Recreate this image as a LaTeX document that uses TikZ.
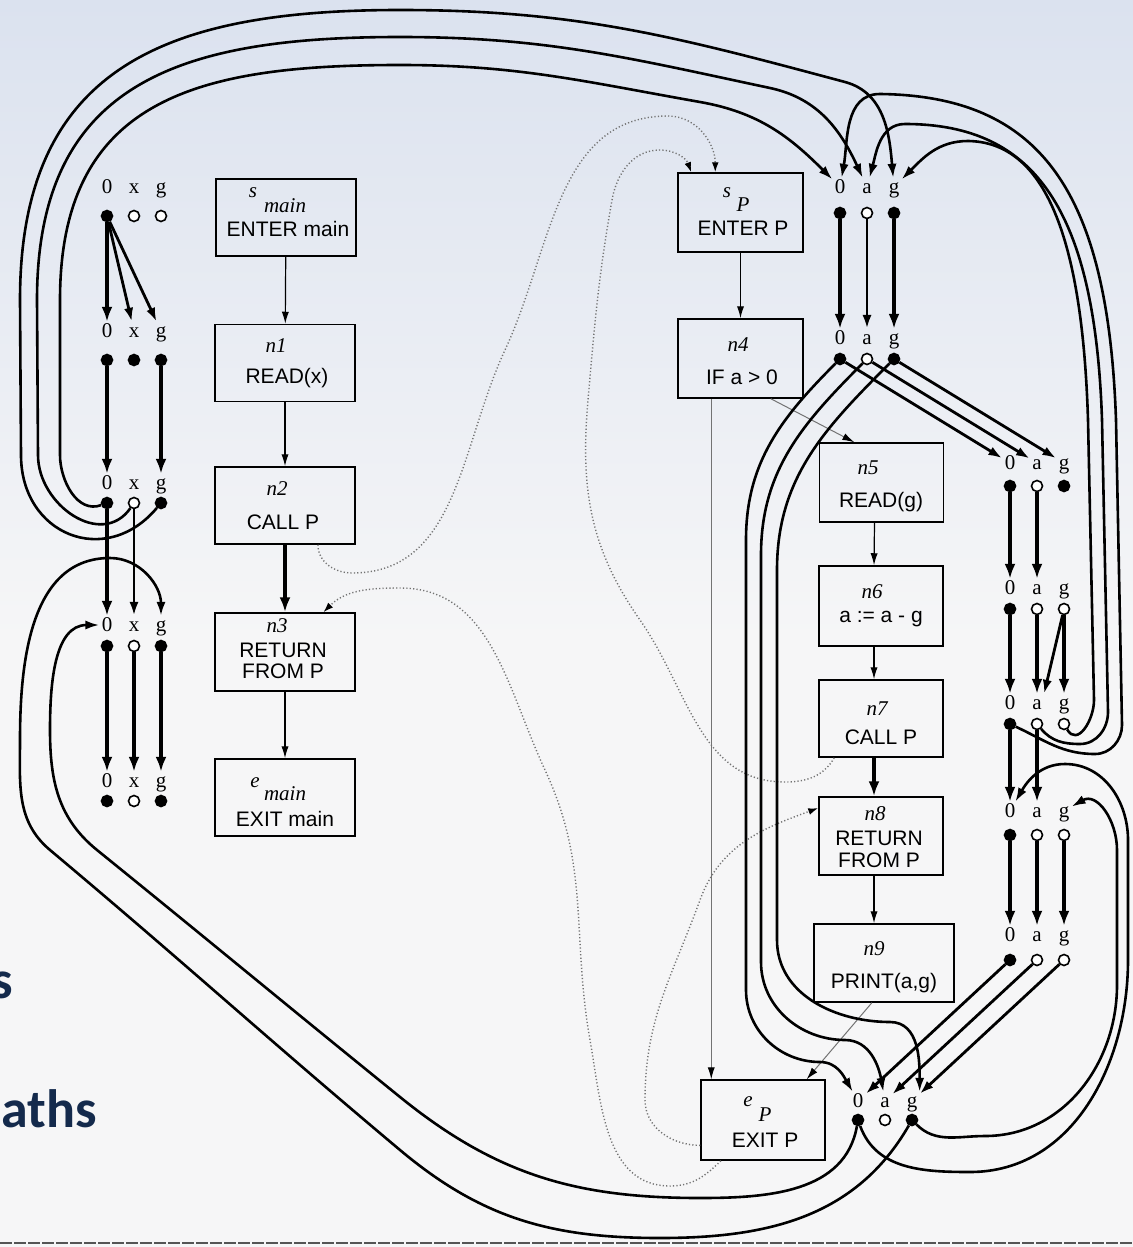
\documentclass[tikz,border=0pt]{standalone}
\usepackage{fontspec}
\setmainfont{Liberation Serif}
\setsansfont{Liberation Sans}
\newfontfamily\slidefont{Carlito}
\usetikzlibrary{arrows.meta,calc}

\definecolor{slideblue}{RGB}{20,42,76}
\definecolor{bgtop}{RGB}{219,226,239}
\definecolor{bglow}{RGB}{246,246,247}
\definecolor{rulegray}{RGB}{85,85,85}
\definecolor{linkgray}{RGB}{115,115,115}

\tikzstyle{stmt} = [draw, line width=0.75pt, inner sep=0pt]
\tikzstyle{stmtxt} = [inner sep=0pt, anchor=base, font=\sffamily\fontsize{10.5}{12}\selectfont]
\tikzstyle{tag} = [inner sep=0pt, anchor=base, font=\itshape\fontsize{10.5}{12}\selectfont]
\tikzstyle{flab} = [inner sep=1pt, font=\fontsize{10.5}{12}\selectfont, text height=6.8pt, text depth=0pt]
\tikzstyle{fact} = [circle, draw, line width=0.8pt, inner sep=0pt, minimum size=5.5pt]
\tikzstyle{cfe} = [line width=0.6pt, -{Latex[length=6pt,width=3.6pt]}]
\tikzstyle{callret} = [line width=2.2pt, -{Latex[length=7.5pt,width=5.5pt]}]
\tikzstyle{ghost} = [draw=linkgray, line width=0.5pt, -{Latex[length=6pt,width=3.6pt,color=black]}]
\tikzstyle{interproc} = [draw=linkgray, line width=0.7pt, dash pattern=on 0.6pt off 1.1pt, -{Latex[length=5pt,width=3.4pt,color=black]}]
\tikzstyle{pathbold} = [line width=2.3pt, -{Latex[length=7.5pt,width=5.5pt]}]
\tikzstyle{pathmid} = [line width=1.4pt, -{Latex[length=7pt,width=4.6pt]}]
\tikzstyle{pathlong} = [line width=1.3pt, -{Latex[length=7pt,width=4.6pt]}]
\tikzstyle{slide} = [inner sep=0pt, anchor=base east, text=slideblue, font=\slidefont\bfseries\fontsize{27}{30}\selectfont]

% one row of the exploded graph: 0, a variable, g
\newcommand{\facts}[8]{%
  \foreach \fv/\fc [count=\fk from 0] in {0/#6,#5/#7,g/#8}{%
    \node[flab] (#1-\fv l) at (#2+\fk*27,-#3) {\fv};
    \node[fact, fill=\fc] (#1-\fv) at (#2+\fk*27,-#4) {};
  }}

\begin{document}
\begin{tikzpicture}[x=0.5pt, y=0.5pt]
\useasboundingbox (0,0) rectangle (1133,-1247);
\shade[top color=bgtop, bottom color=bglow] (0,0) rectangle (1133,-640);
\fill[bglow] (0,-640) rectangle (1133,-1247);
\clip (0,0) rectangle (1133,-1247);
\draw[rulegray, line width=1pt, dash pattern=on 6pt off 1pt] (0,-1243) -- (1133,-1243);

% slide text behind the figure
\node[slide] (frag-s) at (13,-998) {s};
\node[slide] (frag-paths) at (97,-1127) {paths};

% flow graph of main
\node[stmt, minimum width=70pt, minimum height=38.5pt] (smain) at (286,-217.5) {};
\node[tag] (smain-s) at (253,-198) {s};
\node[tag] (smain-m) at (285,-213) {main};
\node[stmtxt] (smain-t) at (288,-236) {ENTER main};

\node[stmt, minimum width=70pt, minimum height=38.5pt] (n1) at (285,-363) {};
\node[tag] (n1-tag) at (276,-352) {n1};
\node[stmtxt] (n1-t) at (287,-383) {READ(x)};

\node[stmt, minimum width=70pt, minimum height=38.5pt] (n2) at (285,-505.5) {};
\node[tag] (n2-tag) at (277,-495) {n2};
\node[stmtxt] (n2-t) at (283,-529) {CALL P};

\node[stmt, minimum width=70pt, minimum height=39pt] (n3) at (285,-652) {};
\node[tag] (n3-tag) at (277,-632) {n3};
\node[stmtxt] (n3-t1) at (283,-657) {RETURN};
\node[stmtxt] (n3-t2) at (283,-678) {FROM P};

\node[stmt, minimum width=70pt, minimum height=38.5pt] (emain) at (285,-797.5) {};
\node[tag] (emain-e) at (255,-787) {e};
\node[tag] (emain-m) at (285,-800) {main};
\node[stmtxt] (emain-t) at (285,-826) {EXIT main};

% flow graph of P
\node[stmt, minimum width=62.5pt, minimum height=39.5pt] (sP) at (740.5,-212.5) {};
\node[tag] (sP-s) at (727,-197) {s};
\node[tag] (sP-p) at (743,-211) {P};
\node[stmtxt] (sP-t) at (743,-235) {ENTER P};

\node[stmt, minimum width=62.5pt, minimum height=39.5pt] (n4) at (740.5,-358.5) {};
\node[tag] (n4-tag) at (738,-351) {n4};
\node[stmtxt] (n4-t) at (742,-384) {IF a > 0};

\node[stmt, minimum width=62pt, minimum height=39.5pt] (n5) at (881.5,-482.5) {};
\node[tag] (n5-tag) at (868,-474) {n5};
\node[stmtxt] (n5-t) at (881,-507) {READ(g)};

\node[stmt, minimum width=62pt, minimum height=40pt] (n6) at (881,-606) {};
\node[tag] (n6-tag) at (872,-598) {n6};
\node[stmtxt] (n6-t) at (881,-622) {a := a - g};

\node[stmt, minimum width=62pt, minimum height=38.5pt] (n7) at (881,-718.5) {};
\node[tag] (n7-tag) at (877,-715) {n7};
\node[stmtxt] (n7-t) at (881,-744) {CALL P};

\node[stmt, minimum width=62pt, minimum height=39pt] (n8) at (881,-836) {};
\node[tag] (n8-tag) at (875,-820) {n8};
\node[stmtxt] (n8-t1) at (879,-845) {RETURN};
\node[stmtxt] (n8-t2) at (879,-867) {FROM P};

\node[stmt, minimum width=70pt, minimum height=39pt] (n9) at (884,-963) {};
\node[tag] (n9-tag) at (874,-955) {n9};
\node[stmtxt] (n9-t) at (884,-988) {PRINT(a,g)};

\node[stmt, minimum width=62pt, minimum height=40pt] (eP) at (763,-1120) {};
\node[tag] (eP-e) at (748,-1106) {e};
\node[tag] (eP-p) at (765,-1121) {P};
\node[stmtxt] (eP-t) at (765,-1147) {EXIT P};

% flow edges
\draw[cfe] (smain) -- (n1);
\draw[cfe] (n1) -- (n2);
\draw[callret] (n2) -- (n3);
\draw[cfe] (n3) -- (emain);
\draw[cfe] (sP) -- (n4);
\draw[cfe] ($(n5.south)+(-7,0)$) -- ($(n6.north)+(-7,0)$);
\draw[cfe] ($(n6.south)+(-7,0)$) -- ($(n7.north)+(-7,0)$);
\draw[callret] ($(n7.south)+(-7,0)$) -- ($(n8.north)+(-7,0)$);
\draw[cfe] ($(n8.south)+(-7,0)$) -- ($(n9.north)+(-10,0)$);
\draw[ghost] (n4.-53) -- (n5.124);
\draw[ghost] (n4.-126) -- (n4.-126 |- eP.north);
\draw[ghost] (n9.-107) -- (eP.43);

% call and return links
\draw[interproc] (n2.-50) to[out=-90,in=180] (352,-573) to[out=0,in=-115] (505,-350)
  to[out=65,in=180] (668,-116) to[out=0,in=90] ($(sP.north west)+(38,0)$);
\draw[interproc] (n7.220) to[out=-120,in=0] (785,-782) to[out=180,in=-55] (640,-620)
  to[out=125,in=-95] (588,-400) to[out=85,in=-100] (612,-200) to[out=80,in=180] (660,-150)
  to[out=0,in=110] ($(sP.north west)+(14,0)$);
\draw[interproc] (eP.224) to[out=-135,in=0] (670,-1186) to[out=180,in=-80] (590,-1040)
  to[out=100,in=-65] (545,-770) to[out=115,in=0] (400,-588) to[out=180,in=45] (n3.46);
\draw[interproc] (eP.202) to[out=180,in=-90] (645,-1100) to[out=90,in=-110] (700,-900)
  to[out=70,in=200] (n8.156);

% exploded nodes
\facts{m0}{107}{187}{216}{x}{black}{white}{white}
\facts{m1}{107}{331}{360}{x}{black}{black}{black}
\facts{m2}{107}{483}{503}{x}{black}{white}{black}
\facts{m3}{107}{625}{646}{x}{black}{white}{black}
\facts{me}{107}{781}{801}{x}{black}{white}{black}
\facts{p0}{840}{187}{213}{a}{black}{white}{black}
\facts{p4}{840}{338}{359}{a}{black}{white}{black}
\facts{p5}{1010}{463}{486}{a}{black}{white}{black}
\facts{p6}{1010}{588}{609}{a}{black}{white}{white}
\facts{p7}{1010}{703}{724}{a}{black}{white}{white}
\facts{p8}{1010}{811}{835}{a}{black}{white}{white}
\facts{p9}{1010}{935}{960}{a}{black}{white}{white}
\facts{pe}{858}{1101}{1120}{a}{black}{white}{black}

% edges inside main
\draw[pathbold] (m0-0) -- (m1-0l);
\draw[pathmid] (m0-0) -- (m1-xl);
\draw[pathmid] (m0-0) -- (m1-gl);
\draw[pathbold] (m1-0) -- (m2-0l);
\draw[pathbold] (m1-g) -- (m2-gl);
\draw[pathbold] (m2-0) -- (m3-0l);
\draw[pathmid] (m2-x) -- (m3-xl);
\foreach \q in {0,x,g} \draw[pathbold] (m3-\q) -- (me-\q l);

% edges inside P
\foreach \q in {0,g} \draw[pathbold] (p0-\q) -- (p4-\q l);
\draw[pathmid] (p0-a) -- (p4-al);
\foreach \q in {0,a,g} \draw[pathmid] (p4-\q) -- (p5-\q l);
\foreach \q in {0,a} \draw[pathbold] (p5-\q) -- (p6-\q l);
\foreach \q in {0,a,g} \draw[pathbold] (p6-\q) -- (p7-\q l);
\draw[pathmid] (p6-g) -- (p7-al.north east);
\foreach \q in {0,a} \draw[pathbold] (p7-\q) -- (p8-\q l);
\foreach \q in {0,a,g} \draw[pathbold] (p8-\q) -- (p9-\q l);
\foreach \q in {0,a,g} \draw[pathmid] (p9-\q) -- (pe-\q l);

% false branch of n4
\draw[pathlong] (p4-0) to[out=-135,in=90] (746,-540) -- (746,-990)
  to[out=-90,in=180] (820,-1062) to[out=0,in=120] (pe-0l);
\draw[pathlong] (p4-a) to[out=-135,in=90] (761,-555) -- (761,-962)
  to[out=-90,in=180] (845,-1040) to[out=0,in=100] (pe-al);
\draw[pathlong] (p4-g) to[out=-135,in=90] (777,-570) -- (777,-940)
  to[out=-90,in=180] (890,-1022) to[out=0,in=90] (pe-gl.north east);

% call from main to P
\draw[pathlong] (m2-0) to[out=-160,in=-90] (60,-455) -- (60,-300)
  to[out=90,in=180,looseness=1.25] (400,-65) to[out=0,in=170] (700,-102) to[out=-10,in=135] (p0-0l);
\draw[pathlong] (m2-x) to[out=-125,in=-90,looseness=1.2] (38,-455) -- (37,-300)
  to[out=90,in=180,looseness=1.25] (400,-37) to[out=0,in=168] (770,-88) to[out=-12,in=115] (p0-al);
\draw[pathlong] (m2-g) to[out=-130,in=-90,looseness=1.4] (21,-455) -- (20,-300)
  to[out=90,in=180,looseness=1.25] (400,-10) to[out=0,in=165] (845,-82) to[out=-15,in=95] (p0-gl);

% recursive call from n7 to P
\draw[pathlong] (p7-0) to[out=-25,in=180] (1095,-754) to[out=0,in=-90] (1122,-725) -- (1116,-420)
  .. controls (1108,-190) and (1040,-96) .. (880,-94) to[out=180,in=80] (p0-0l);
\draw[pathlong] (p7-a) to[out=-50,in=180] (1080,-744) to[out=0,in=-90] (1108,-712) -- (1102,-420)
  .. controls (1095,-210) and (1035,-124) .. (905,-124) to[out=180,in=75] (p0-al);
\draw[pathlong] (p7-g) to[out=-60,in=-90,looseness=1.3] (1094,-700) -- (1088,-420)
  .. controls (1082,-225) and (1040,-142) .. (968,-141) to[out=180,in=45] (p0-gl);

% returns from P to n8
\draw[pathlong] (pe-0) to[out=-70,in=180] (970,-1172) to[out=0,in=-90] (1128,-960) -- (1128,-840)
  to[out=90,in=0] (1065,-764) to[out=180,in=60] (p8-0l);
\draw[pathlong] (pe-g) to[out=-45,in=180] (985,-1136) to[out=0,in=-90] (1117,-985) -- (1117,-850)
  to[out=90,in=30,looseness=1.2] (p8-gl);

% returns from P to n3
\draw[pathlong] (pe-0) to[out=-100,in=0] (700,-1198) to[out=180,in=-39] (400,-1097)
  to[out=141,in=-39] (97,-850) to[out=141,in=-90] (50,-730) to[out=90,in=180] (m3-0l);
\draw[pathlong] (pe-g) to[out=-120,in=0] (660,-1238) to[out=180,in=-40] (400,-1150)
  to[out=140,in=-40] (50,-850) to[out=140,in=-90] (20,-740) to[out=90,in=180] (110,-558)
  to[out=0,in=90] (m3-gl);
\end{tikzpicture}
\end{document}
